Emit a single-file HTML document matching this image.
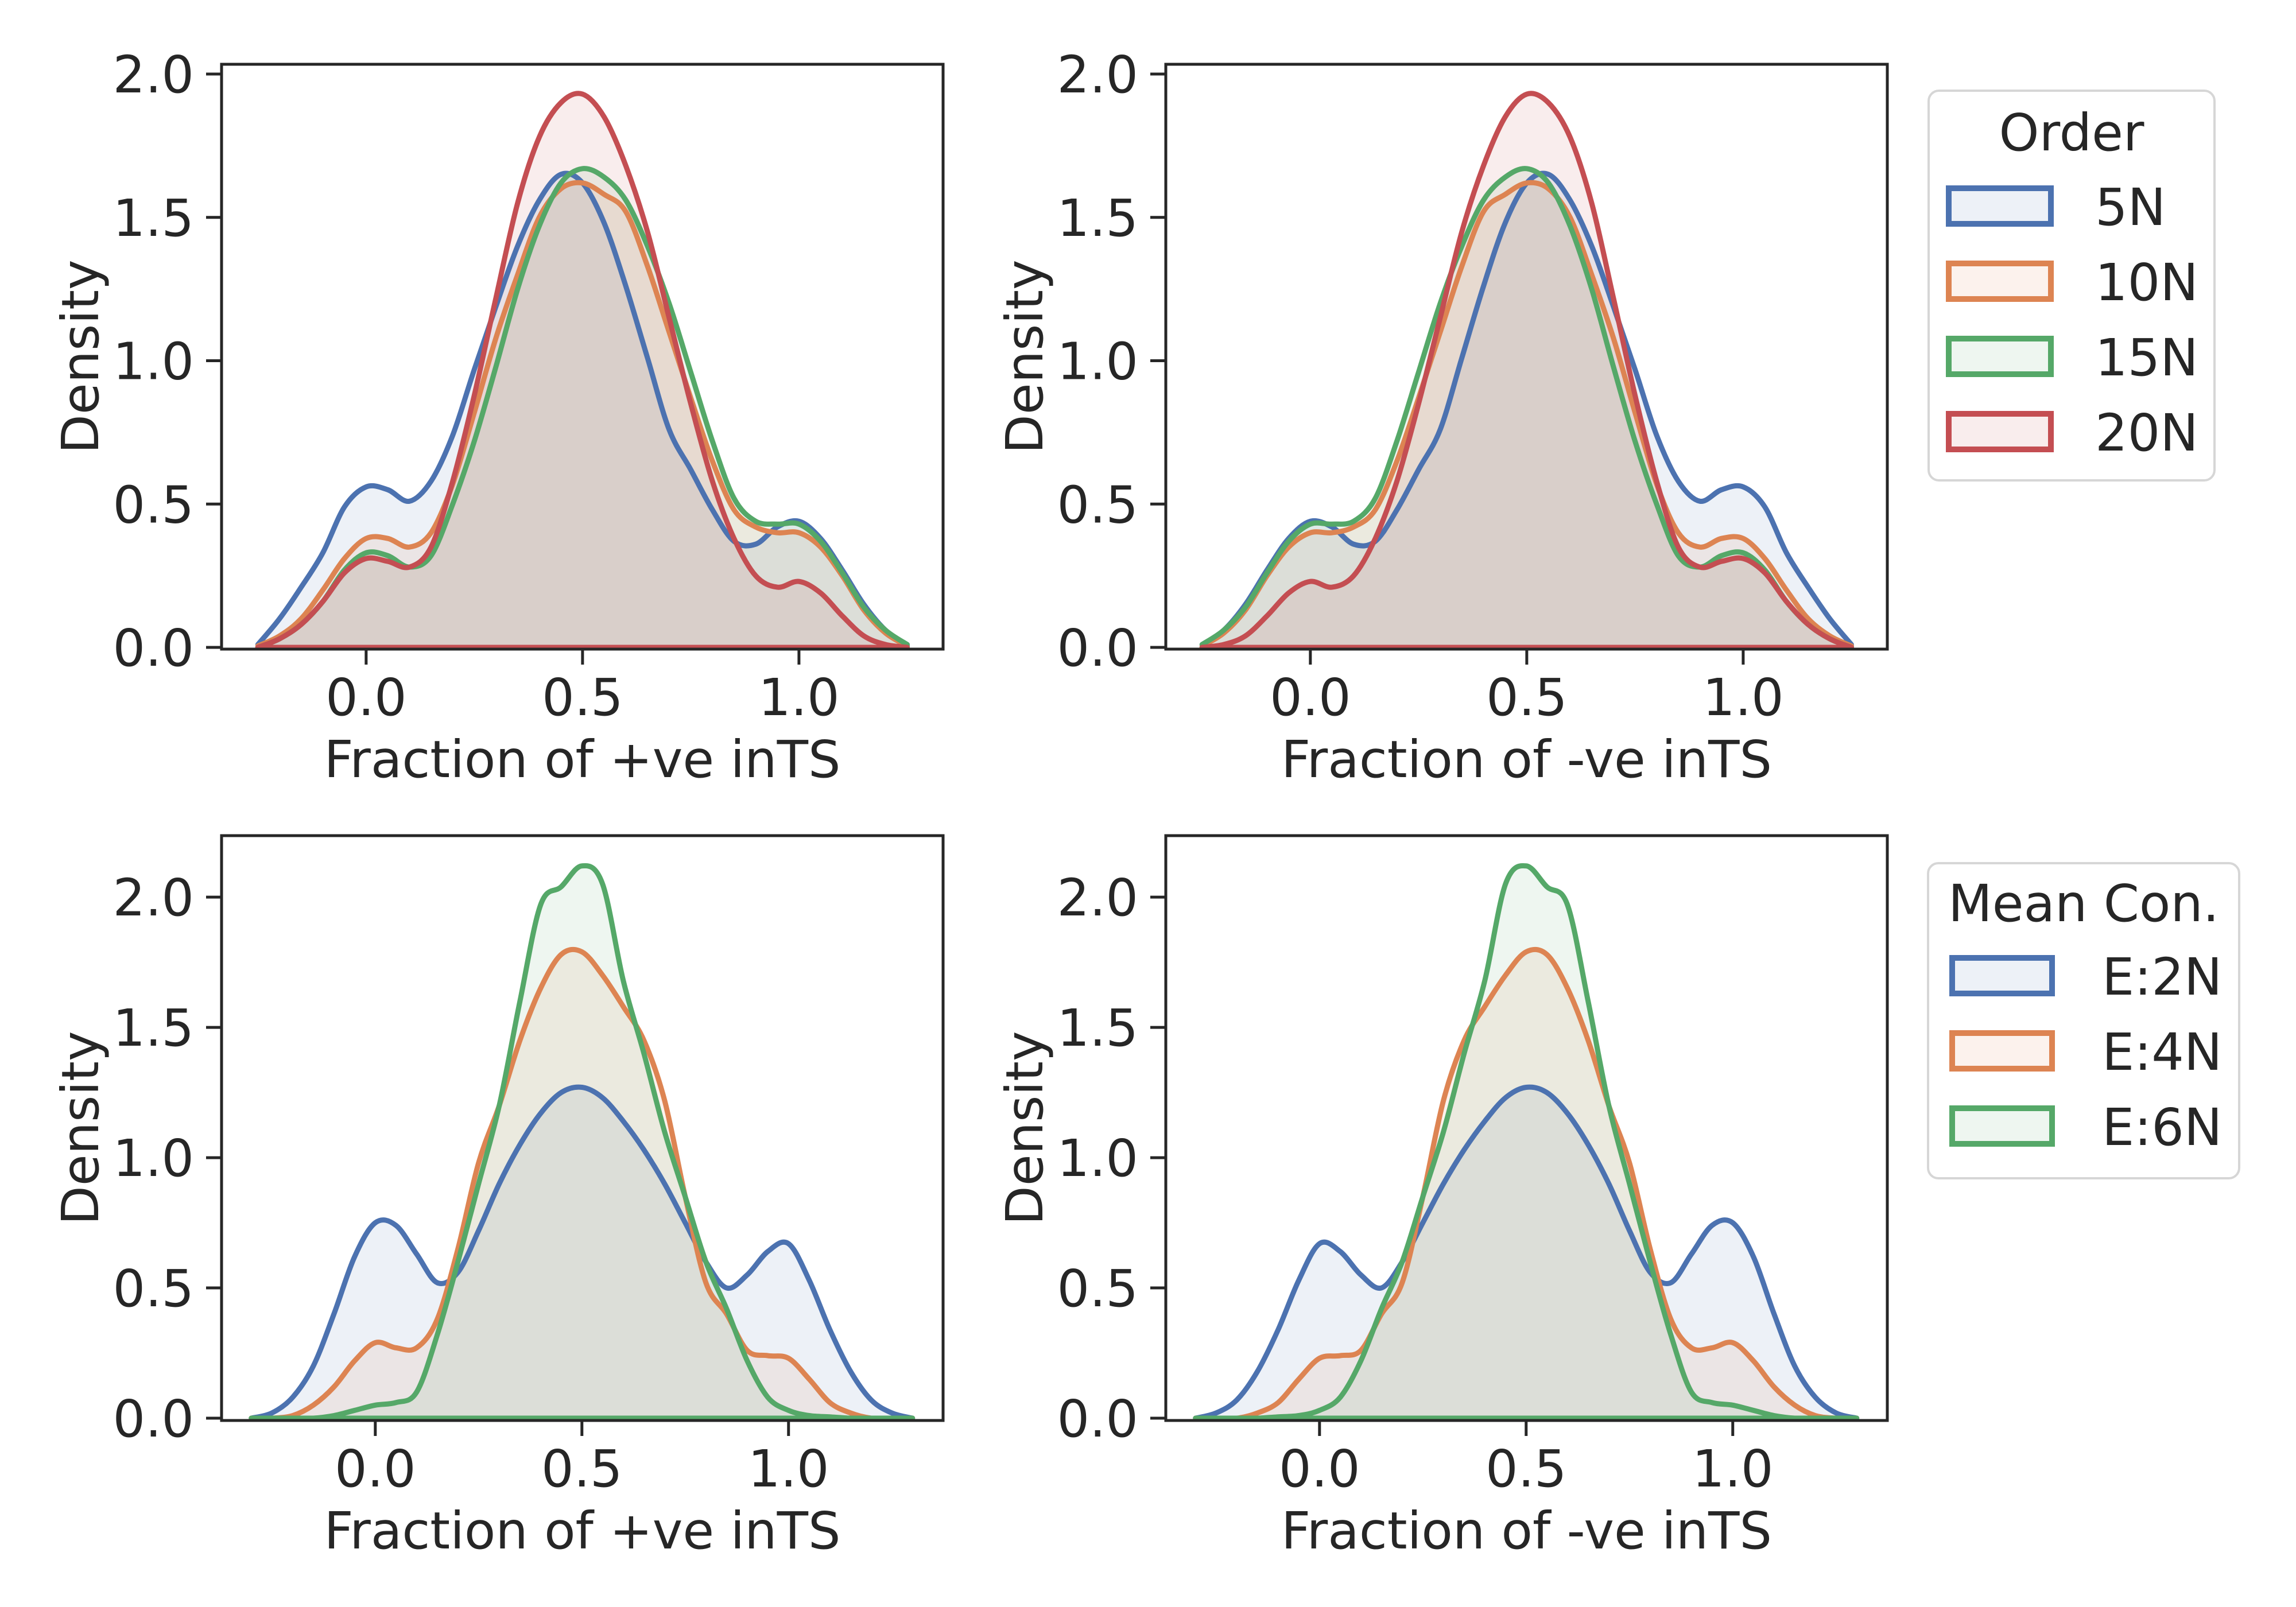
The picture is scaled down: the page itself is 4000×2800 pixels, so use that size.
<!DOCTYPE html>
<html><head><meta charset="utf-8">
<style>
html,body{margin:0;padding:0;background:#fff;}
svg{display:block;}
text{font-family:"DejaVu Sans","Liberation Sans",sans-serif;fill:#262626;}
</style></head>
<body>
<svg id="fig" width="4000" height="2800" viewBox="0 0 4000 2800" xmlns="http://www.w3.org/2000/svg">
<rect width="4000" height="2800" fill="#fff"/>
<g id="root"></g>
</svg>
<script>
// ---- data ----
const topGrid = [-0.25,-0.2,-0.15,-0.1,-0.05,0,0.05,0.1,0.15,0.2,0.25,0.3,0.35,0.4,0.45,0.5,0.55,0.6,0.65,0.7,0.75,0.8,0.85,0.9,0.95,1.0,1.05,1.1,1.15,1.2,1.25];
const botGrid = [-0.3,-0.25,-0.2,-0.15,-0.1,-0.05,0,0.05,0.1,0.15,0.2,0.25,0.3,0.35,0.4,0.45,0.5,0.55,0.6,0.65,0.7,0.75,0.8,0.85,0.9,0.95,1.0,1.05,1.1,1.15,1.2,1.25,1.3];
const orderLabels = ["5N","10N","15N","20N"];
const conLabels = ["E:2N","E:4N","E:6N"];
// top-left: fraction of +ve, by order
const posOrder5N  = [0.01,0.1,0.21,0.33,0.49,0.56,0.55,0.51,0.58,0.74,0.97,1.19,1.40,1.56,1.65,1.62,1.48,1.26,1.01,0.76,0.62,0.48,0.37,0.36,0.42,0.44,0.38,0.27,0.15,0.06,0.01];
const posOrder10N = [0.005,0.04,0.10,0.20,0.31,0.38,0.38,0.35,0.40,0.57,0.82,1.08,1.30,1.50,1.60,1.62,1.58,1.52,1.33,1.10,0.87,0.65,0.48,0.42,0.40,0.40,0.35,0.25,0.13,0.05,0.005];
const posOrder15N = [0.0,0.03,0.08,0.16,0.27,0.33,0.32,0.28,0.32,0.50,0.72,0.98,1.25,1.47,1.62,1.67,1.64,1.56,1.40,1.20,0.96,0.72,0.52,0.44,0.43,0.43,0.37,0.26,0.14,0.06,0.01];
const posOrder20N = [0.0,0.03,0.08,0.16,0.26,0.31,0.30,0.28,0.35,0.58,0.88,1.22,1.55,1.78,1.90,1.93,1.85,1.68,1.45,1.15,0.85,0.58,0.38,0.25,0.21,0.23,0.19,0.11,0.04,0.01,0.0];
// top-right: fraction of -ve, by order
const negOrder5N  = [0.01,0.06,0.15,0.27,0.38,0.44,0.42,0.36,0.37,0.48,0.62,0.76,1.01,1.26,1.48,1.62,1.65,1.56,1.40,1.19,0.97,0.74,0.58,0.51,0.55,0.56,0.49,0.33,0.21,0.10,0.01];
const negOrder10N = [0.005,0.05,0.13,0.25,0.35,0.40,0.40,0.42,0.48,0.65,0.87,1.10,1.33,1.52,1.58,1.62,1.60,1.50,1.30,1.08,0.82,0.57,0.40,0.35,0.38,0.38,0.31,0.20,0.10,0.04,0.005];
const negOrder15N = [0.01,0.06,0.14,0.26,0.37,0.43,0.43,0.44,0.52,0.72,0.96,1.20,1.40,1.56,1.64,1.67,1.62,1.47,1.25,0.98,0.72,0.50,0.32,0.28,0.32,0.33,0.27,0.16,0.08,0.03,0.0];
const negOrder20N = [0.0,0.01,0.04,0.11,0.19,0.23,0.21,0.25,0.38,0.58,0.85,1.15,1.45,1.68,1.85,1.93,1.90,1.78,1.55,1.22,0.88,0.58,0.35,0.28,0.30,0.31,0.26,0.16,0.08,0.03,0.0];
// bottom-left: fraction of +ve, by mean connectivity
const posConE2N = [0,0.02,0.08,0.20,0.40,0.62,0.75,0.74,0.63,0.52,0.56,0.72,0.90,1.05,1.17,1.25,1.27,1.23,1.14,1.03,0.90,0.75,0.60,0.50,0.55,0.64,0.67,0.53,0.34,0.18,0.07,0.02,0];
const posConE4N = [0,0,0.01,0.05,0.12,0.22,0.29,0.27,0.27,0.38,0.65,0.98,1.20,1.45,1.65,1.78,1.79,1.70,1.58,1.45,1.22,0.85,0.52,0.40,0.26,0.24,0.23,0.15,0.06,0.02,0,0,0];
const posConE6N = [0,0,0,0,0.01,0.03,0.05,0.06,0.10,0.32,0.60,0.90,1.20,1.60,1.97,2.04,2.12,2.05,1.68,1.40,1.10,0.85,0.60,0.42,0.22,0.08,0.03,0.01,0.005,0,0,0,0];
// bottom-right: fraction of -ve, by mean connectivity
const negConE2N = [0,0.02,0.07,0.18,0.34,0.53,0.67,0.64,0.55,0.50,0.60,0.75,0.90,1.03,1.14,1.23,1.27,1.25,1.17,1.05,0.90,0.72,0.56,0.52,0.63,0.74,0.75,0.62,0.40,0.20,0.08,0.02,0];
const negConE4N = [0,0,0,0.02,0.06,0.15,0.23,0.24,0.26,0.40,0.52,0.85,1.22,1.45,1.58,1.70,1.79,1.78,1.65,1.45,1.20,0.98,0.65,0.38,0.27,0.27,0.29,0.22,0.12,0.05,0.01,0,0];
const negConE6N = [0,0,0,0,0.005,0.01,0.03,0.08,0.22,0.42,0.60,0.85,1.10,1.40,1.68,2.05,2.12,2.04,1.97,1.60,1.20,0.90,0.60,0.32,0.10,0.06,0.05,0.03,0.01,0,0,0,0];
const xTicks = [0.0,0.5,1.0];
const xTickLabels = ["0.0","0.5","1.0"];
const yTicks = [0.0,0.5,1.0,1.5,2.0];
const yTickLabels = ["0.0","0.5","1.0","1.5","2.0"];

// ---- rendering ----
const NS = "http://www.w3.org/2000/svg";
const root = document.getElementById('root');
const COLORS = ["#4C72B0","#DD8452","#55A868","#C44E52"];
const FS = 89;
function mk(tag, attrs, parent){
  const e = document.createElementNS(NS, tag);
  for (const k in attrs) e.setAttribute(k, attrs[k]);
  (parent||root).appendChild(e);
  return e;
}
function smoothPath(pts){
  let d = "M"+pts[0][0].toFixed(1)+","+pts[0][1].toFixed(1);
  for (let i=0;i<pts.length-1;i++){
    const p0=pts[Math.max(0,i-1)], p1=pts[i], p2=pts[i+1], p3=pts[Math.min(pts.length-1,i+2)];
    const c1x=p1[0]+(p2[0]-p0[0])/6, c1y=p1[1]+(p2[1]-p0[1])/6;
    const c2x=p2[0]-(p3[0]-p1[0])/6, c2y=p2[1]-(p3[1]-p1[1])/6;
    d += " C"+c1x.toFixed(1)+","+c1y.toFixed(1)+" "+c2x.toFixed(1)+","+c2y.toFixed(1)+" "+p2[0].toFixed(1)+","+p2[1].toFixed(1);
  }
  return d;
}
function panel(opt){
  const {L,R,T,B,Z,xmin,xmax,ymax,grid,series,xlabel,name} = opt;
  const g = mk('g',{});
  
  
  const sx = v => L + (v - xmin)/(xmax - xmin)*(R-L);
  const sy = v => Z - v/ymax*(Z-T);
  series.forEach((vals,si)=>{
    const pts = grid.map((x,i)=>[sx(x), Math.min(Z, sy(vals[i]))]);
    const line = smoothPath(pts);
    const fill = mk('path',{d: line+" L"+pts[pts.length-1][0].toFixed(1)+","+Z+" L"+pts[0][0].toFixed(1)+","+Z+" Z", fill:COLORS[si], 'fill-opacity':0.1, stroke:'none'}, g);
    
    
  });
  series.forEach((vals,si)=>{
    const pts = grid.map((x,i)=>[sx(x), Math.min(Z, sy(vals[i]))]);
    const ln = mk('path',{d: smoothPath(pts)+" L"+pts[pts.length-1][0].toFixed(1)+","+Z+" L"+pts[0][0].toFixed(1)+","+Z, fill:'none', stroke:COLORS[si], 'stroke-width':9, 'stroke-linejoin':'round','stroke-linecap':'round'}, g);
    
    
  });
  const frame = mk('rect',{x:L,y:T,width:R-L,height:B-T,fill:'none',stroke:'#262626','stroke-width':5}, g);
  
  
  xTicks.forEach((v,i)=>{
    const x = sx(v);
    const tk = mk('line',{x1:x,x2:x,y1:B,y2:B+27,stroke:'#262626','stroke-width':5}, g);
    
    
    const t = mk('text',{x:x,y:B+115,'font-size':FS,'text-anchor':'middle'}, g);
    t.textContent = xTickLabels[i];
    
    
  });
  yTicks.forEach((v,i)=>{
    const y = sy(v);
    const tk = mk('line',{x1:L-27,x2:L,y1:y,y2:y,stroke:'#262626','stroke-width':5}, g);
    
    
    const t = mk('text',{x:L-48,y:y+32,'font-size':FS,'text-anchor':'end'}, g);
    t.textContent = yTickLabels[i];
    
    
  });
  const xl = mk('text',{x:(L+R)/2,y:B+223,'font-size':FS,'text-anchor':'middle'}, g);
  xl.textContent = xlabel;
  
  
  const yc = (T+B)/2, xc = L-246;
  const yl = mk('text',{x:xc,y:yc,'font-size':FS,'text-anchor':'middle','dominant-baseline':'central',transform:'rotate(-90 '+xc+' '+yc+')'}, g);
  yl.textContent = "Density";
  
  
}
const topY = {T:112,B:1131,Z:1128,ymax:(1128-112)/499.5,xmin:-0.334,xmax:1.333,grid:topGrid};
const botY = {T:1456,B:2475,Z:2471,ymax:2.236,xmin:-0.372,xmax:1.374,grid:botGrid};
panel(Object.assign({L:386,R:1643,name:'panel-pos-order',xlabel:'Fraction of +ve inTS',series:[posOrder5N,posOrder10N,posOrder15N,posOrder20N]}, topY));
panel(Object.assign({L:2031,R:3288,name:'panel-neg-order',xlabel:'Fraction of -ve inTS',series:[negOrder5N,negOrder10N,negOrder15N,negOrder20N]}, topY));
panel(Object.assign({L:386,R:1643,name:'panel-pos-con',xlabel:'Fraction of +ve inTS',series:[posConE2N,posConE4N,posConE6N]}, botY));
panel(Object.assign({L:2031,R:3288,name:'panel-neg-con',xlabel:'Fraction of -ve inTS',series:[negConE2N,negConE4N,negConE6N]}, botY));

function legend(o){
  const g = mk('g',{});
  
  
  const box = mk('rect',{x:o.x,y:o.y,width:o.w,height:o.h,rx:18,fill:'#fff',stroke:'#d6d6d6','stroke-width':4}, g);
  
  
  const t = mk('text',{x:o.x+o.w/2,y:o.titleY,'font-size':FS,'text-anchor':'middle'}, g);
  t.textContent = o.title;
  
  
  o.labels.forEach((lab,i)=>{
    const py = o.firstY + i*o.step;
    const p = mk('rect',{x:o.px+5,y:py+5,width:o.pw-10,height:62,fill:COLORS[i],'fill-opacity':0.1,stroke:COLORS[i],'stroke-width':10}, g);
    
    
    const tx = mk('text',{x:o.tx,y:py+69,'font-size':FS}, g);
    tx.textContent = lab;
    
    
  });
}
legend({name:'legend-order',x:3360,y:158,w:498,h:679,title:'Order',titleY:262,labels:orderLabels,firstY:323,step:131,px:3390,pw:188,tx:3650});
legend({name:'legend-mean-con',x:3359,y:1504,w:542,h:549,title:'Mean Con.',titleY:1605,labels:conLabels,firstY:1664,step:131,px:3396,pw:184,tx:3662});
</script>
</body></html>
